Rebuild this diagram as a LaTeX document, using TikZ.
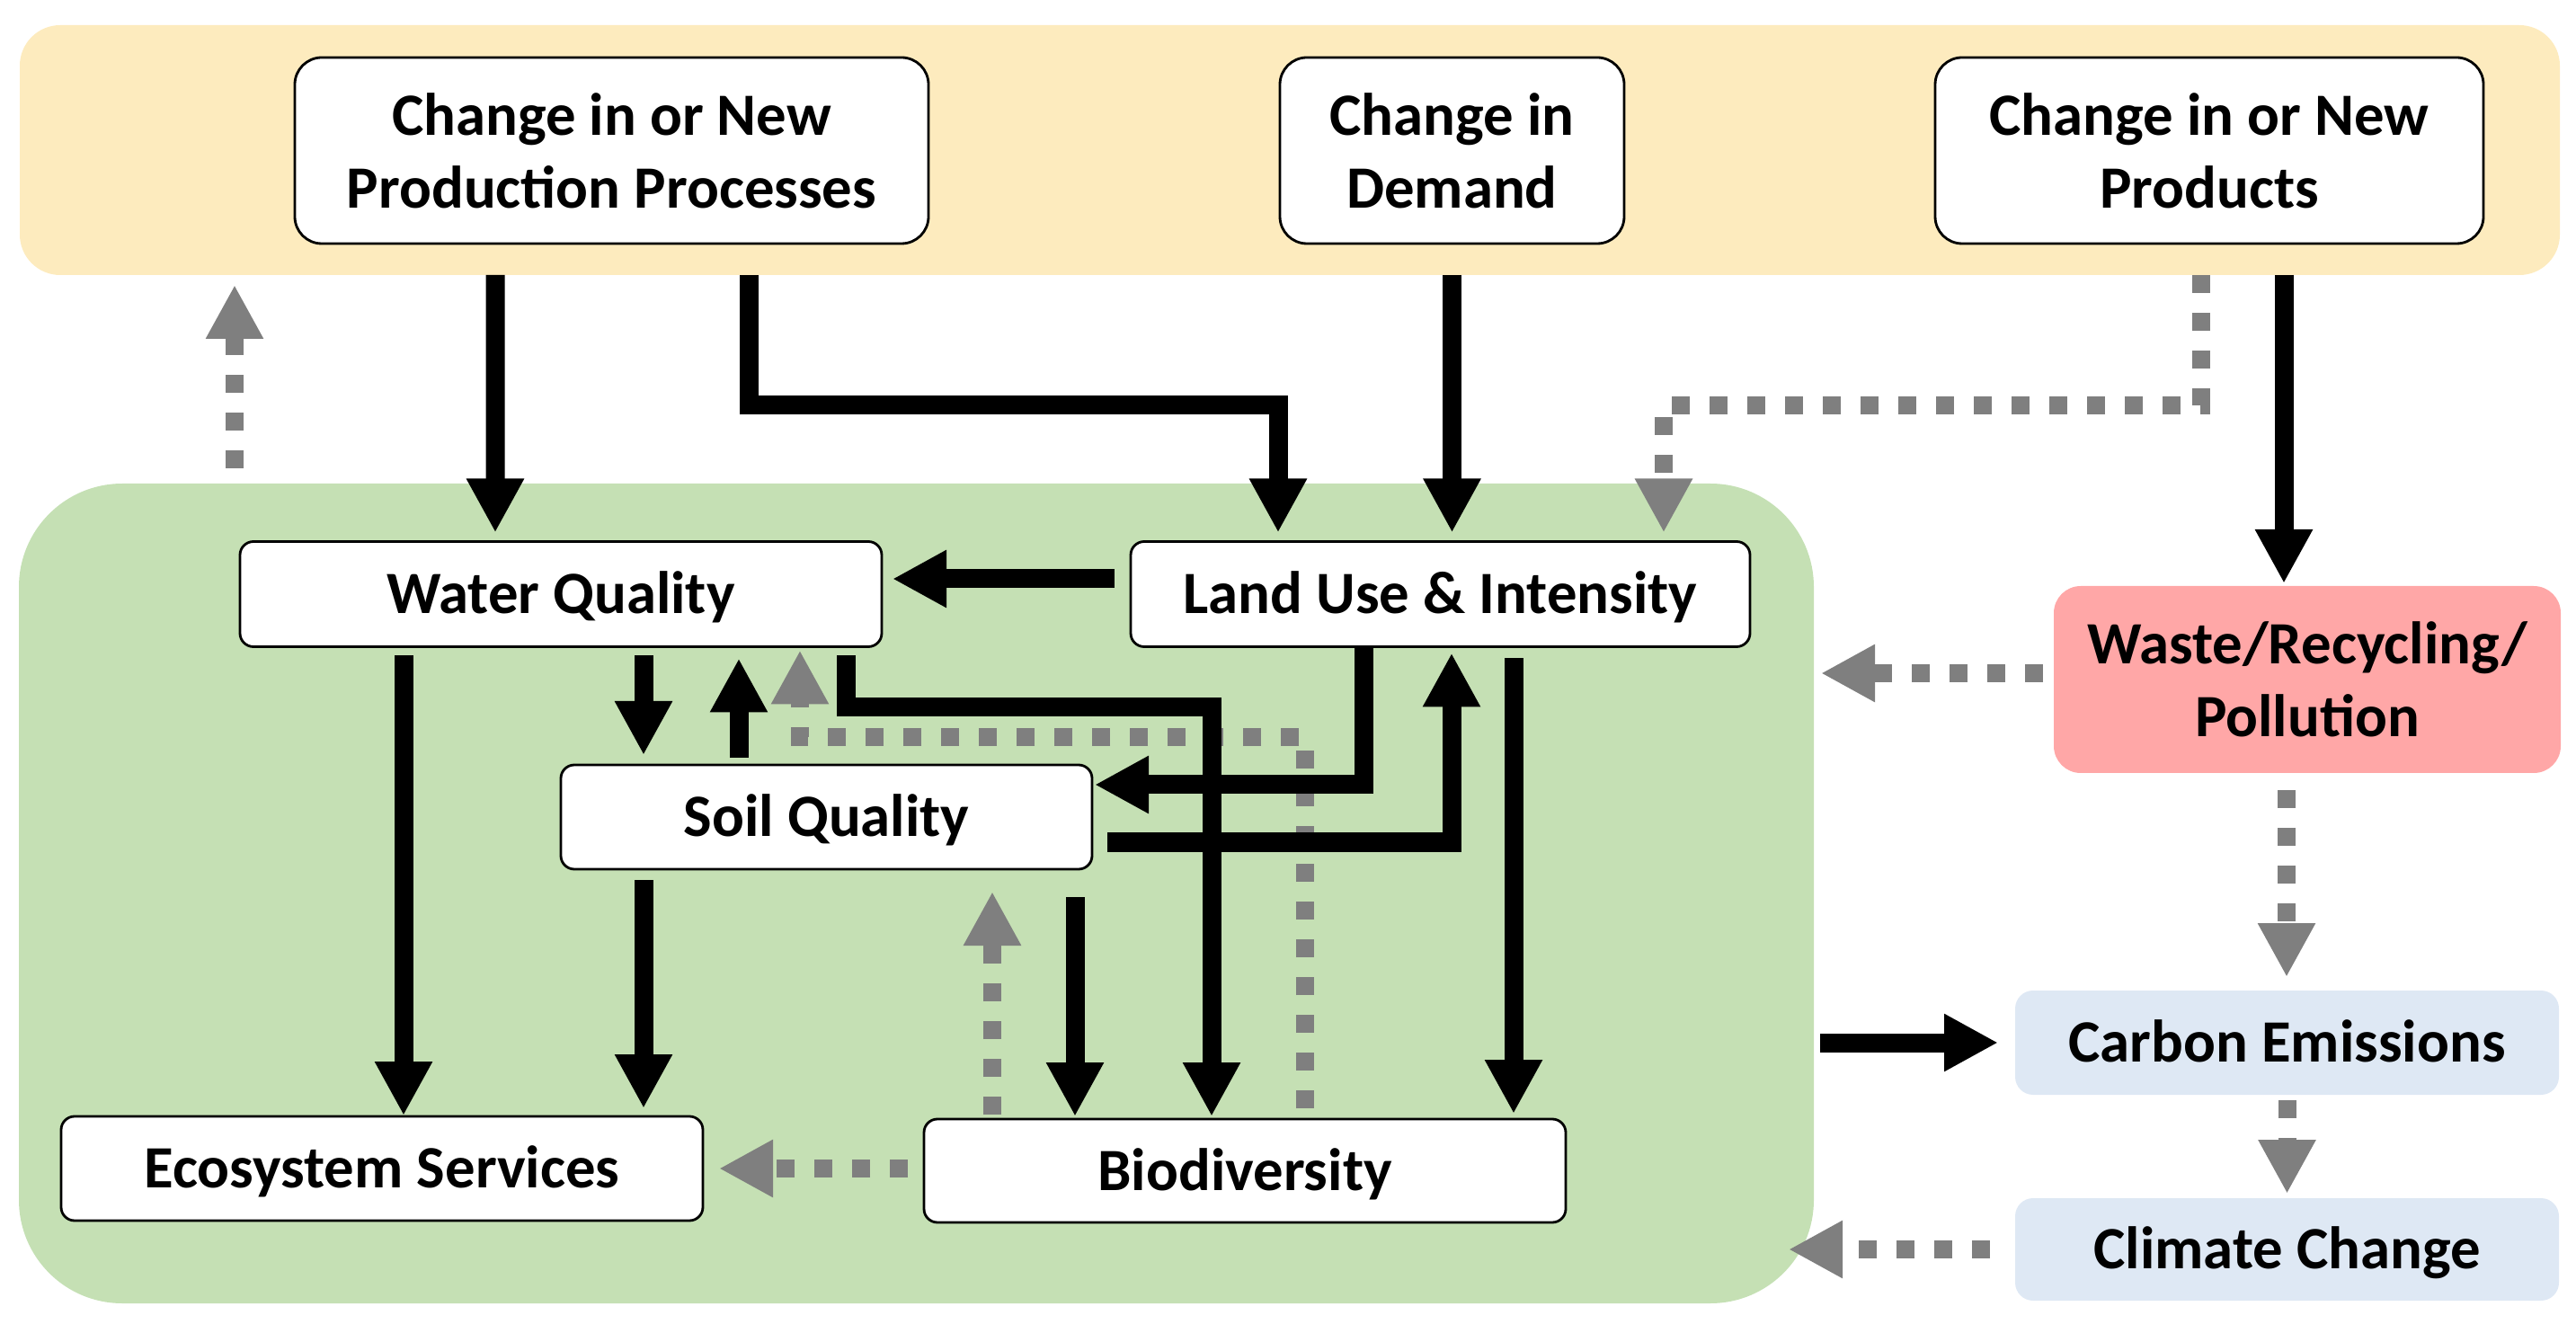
\documentclass[tikz,border=0pt]{standalone}
\usepackage{fontspec}
\setmainfont{Carlito}
\usepackage{tikz}
\usetikzlibrary{arrows.meta}
\definecolor{bandyellow}{HTML}{FDEBBE}
\definecolor{impactgreen}{HTML}{C5E0B4}
\definecolor{wastepink}{HTML}{FFA7A7}
\definecolor{climblue}{HTML}{DEE8F4}
\definecolor{fbgray}{HTML}{7F7F7F}
\tikzset{
	box/.style = {align=center, inner sep=0pt, outer sep=0pt, text centered,
		font=\bfseries\fontsize{19}{23}\selectfont},
	oneline/.style = {text height=16.5pt, text depth=4pt},
	drv/.style = {box, draw=black, line width=0.8pt, fill=white, rounded corners=0.3cm,
		minimum height=2.07cm},
	imp/.style = {box, oneline, draw=black, line width=0.8pt, fill=white, rounded corners=0.15cm,
		minimum height=1.17cm},
	ext/.style = {box, rounded corners=0.2cm},
	area/.style = {inner sep=0pt, outer sep=0pt},
	causal/.style = {line width=0.21cm, -{Triangle[width=0.6cm,length=0.6cm]},
		shorten >=0.1cm},
	feedback/.style = {line width=0.2cm, fbgray, dash pattern=on 0.2cm off 0.22cm,
		-{Triangle[width=0.6cm,length=0.6cm]}, shorten >=0.1cm}
}

\begin{document}
\begin{tikzpicture}
\useasboundingbox (0,0) rectangle (28.66,-14.73);
\node[area, fill=bandyellow, rounded corners=0.45cm, minimum width=28.26cm,
	minimum height=2.78cm] (drivers) at (14.35,-1.67) {};
\node[area, fill=impactgreen, rounded corners=1.15cm, minimum width=19.97cm,
	minimum height=9.12cm] (impacts) at (10.195,-9.94) {};

\node[drv, minimum width=7.05cm] (prod) at (6.805,-1.675) {Change in or New\\Production Processes};
\node[drv, minimum width=3.83cm] (demand) at (16.155,-1.675) {Change in\\Demand};
\node[drv, minimum width=6.10cm] (products) at (24.58,-1.675) {Change in or New\\Products};

\node[imp, minimum width=7.14cm] (water) at (6.24,-6.61) {Water Quality};
\node[imp, minimum width=6.89cm] (landuse) at (16.025,-6.61) {Land Use \& Intensity};
\node[imp, minimum width=5.91cm, minimum height=1.16cm] (soil) at (9.195,-9.09) {Soil Quality};
\node[imp, minimum width=7.14cm, minimum height=1.16cm] (eco) at (4.25,-13.00) {Ecosystem Services};
\node[imp, minimum width=7.14cm, minimum height=1.15cm] (bio) at (13.85,-13.025) {Biodiversity};

\node[ext, fill=wastepink, rounded corners=0.3cm, minimum width=5.64cm,
	minimum height=2.08cm] (waste) at (25.67,-7.56) {Waste/Recycling/\\Pollution};
\node[ext, oneline, fill=climblue, minimum width=6.05cm, minimum height=1.16cm] (carbon) at (25.445,-11.60) {Carbon Emissions};
\node[ext, oneline, fill=climblue, minimum width=6.05cm, minimum height=1.14cm] (climate) at (25.445,-13.90) {Climate Change};

% feedback (grey, dashed)
\draw[feedback] ([xshift=-0.09cm]products.south |- drivers.south) -- ++(0,-1.45)
	-| ([xshift=2.485cm]landuse.north);
\draw[feedback, shorten <=0.17cm, shorten >=0.11cm] ([xshift=-7.585cm]impacts.north)
	-- ([xshift=-7.585cm]impacts.north |- drivers.south);
\draw[feedback, shorten <=0.12cm, shorten >=0.04cm] ([xshift=0.67cm]bio.north) -- ++(0,4.25)
	-| ([xshift=2.66cm]water.south);
\draw[feedback, shorten <=0.05cm, shorten >=0.25cm] ([xshift=-2.81cm]bio.north)
	-- ([xshift=-2.81cm]bio.north |- soil.south);
\draw[feedback, shorten <=0.18cm, shorten >=0.18cm] ([yshift=0.025cm]bio.west)
	-- ([yshift=0.025cm]bio.west -| eco.east);
\draw[feedback, shorten <=0.12cm, shorten >=0.08cm] ([yshift=0.07cm]waste.west)
	-- ([yshift=0.07cm]waste.west -| impacts.east);
\draw[feedback, shorten <=0.19cm, shorten >=0.15cm] ([xshift=-0.23cm]waste.south)
	-- ([xshift=-0.23cm]waste.south |- carbon.north);
\draw[feedback, shorten <=0.06cm, shorten >=0.05cm] (carbon.south) -- (climate.north);
\draw[feedback, shorten <=0.28cm, shorten >=0.04cm] (climate.west)
	-- ([xshift=-0.32cm]climate.west -| impacts.east);

% causal (black)
\draw[causal] ([xshift=-1.295cm]prod.south |- drivers.south) -- ([xshift=-0.73cm]water.north);
\draw[causal] ([xshift=1.525cm]prod.south |- drivers.south) -- ++(0,-1.45)
	-| ([xshift=-1.805cm]landuse.north);
\draw[causal] (demand.south |- drivers.south) -- (demand.south |- landuse.north);
\draw[causal, shorten >=0.03cm] ([xshift=0.83cm]products.south |- drivers.south)
	-- ([xshift=0.83cm]products.south |- waste.north);
\draw[causal, shorten <=0.18cm, shorten >=0.12cm] ([yshift=0.17cm]landuse.west)
	-- ([yshift=0.17cm]landuse.west -| water.east);
\draw[causal, shorten <=0.1cm, shorten >=0.11cm] ([xshift=0.92cm]water.south)
	-- ([xshift=0.92cm]water.south |- soil.north);
\draw[causal, shorten <=0.08cm, shorten >=0.13cm] ([xshift=-0.975cm]soil.north)
	-- ([xshift=-0.975cm]soil.north |- water.south);
\draw[causal, shorten <=0.1cm, shorten >=0.03cm] ([xshift=3.17cm]water.south) -- ++(0,-0.67)
	-| ([xshift=-0.37cm]bio.north);
\draw[causal, shorten >=0.03cm] ([xshift=-0.855cm]landuse.south) |- ([yshift=0.36cm]soil.east);
\draw[causal, shorten <=0.17cm, shorten >=0.07cm] ([yshift=-0.28cm]soil.east)
	-| ([xshift=0.125cm]landuse.south);
\draw[causal, shorten <=0.13cm, shorten >=0.06cm] ([xshift=0.815cm]landuse.south)
	-- ([xshift=0.815cm]landuse.south |- bio.north);
\draw[causal, shorten <=0.1cm, shorten >=0.01cm] ([xshift=-1.75cm]water.south)
	-- ([xshift=0.24cm]eco.north);
\draw[causal, shorten <=0.12cm, shorten >=0.09cm] ([xshift=-2.035cm]soil.south)
	-- ([xshift=-2.035cm]soil.south |- eco.north);
\draw[causal, shorten <=0.31cm, shorten >=0.03cm] ([xshift=2.765cm]soil.south)
	-- ([xshift=2.765cm]soil.south |- bio.north);
\draw[causal, shorten <=0.07cm, shorten >=0.19cm] (impacts.east |- carbon.west) -- (carbon.west);
\end{tikzpicture}
\end{document}
